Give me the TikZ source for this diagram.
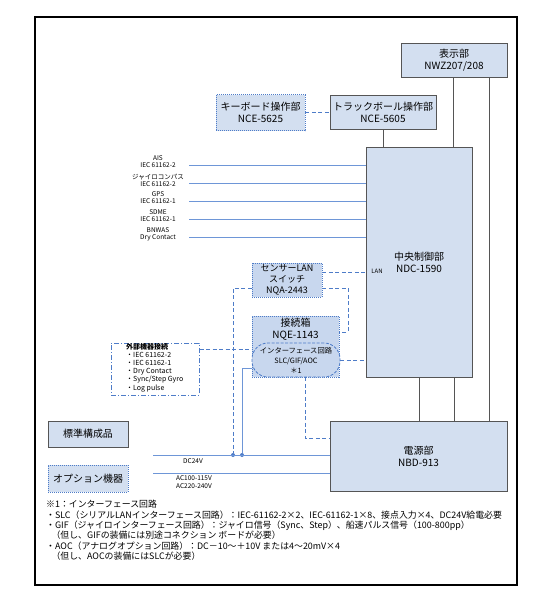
\documentclass[tikz,border=0pt]{standalone}
\usepackage{fontspec}
\setmainfont{Noto Sans CJK JP}
\usepackage{tikz}
\usetikzlibrary{arrows,positioning}

\definecolor{boxfill}{RGB}{211,223,240}
\definecolor{jfill}{RGB}{200,215,238}
\definecolor{boxline}{RGB}{85,85,85}
\definecolor{sigblue}{RGB}{110,150,215}
\definecolor{dashblue}{RGB}{78,124,200}

\newcommand\unitfont{\fontsize{10}{12}\selectfont}
\newcommand\tinyfont{\fontsize{6.5}{7}\selectfont}

\tikzset{
  unit/.style={draw=boxline,fill=boxfill,line width=0.8pt,align=center,inner sep=0pt,font=\unitfont},
  optunit/.style={unit,draw=dashblue,dash pattern=on 1pt off 1pt},
  wire/.style={draw=boxline,line width=0.7pt},
  sig/.style={draw=sigblue,line width=1pt},
  lanwire/.style={draw=dashblue,line width=1pt,dash pattern=on 4pt off 2.5pt},
  siglabel/.style={font=\tinyfont,align=center,inner sep=0pt},
  junction/.style={circle,fill=dashblue,inner sep=0pt,minimum size=4pt}
}

\begin{document}
\begin{tikzpicture}[x=1pt,y=-1pt]
  \useasboundingbox (0,0) rectangle (552,600);
  \draw[line width=1.2pt] (35,17) rectangle (517,585);

  % units
  \node[unit,minimum width=106pt,minimum height=34pt] (disp) at (454,60) {表示部\\NWZ207/208};
  \node[optunit,minimum width=89pt,minimum height=36pt] (kbd) at (260.5,112.5) {キーボード操作部\\NCE-5625};
  \node[unit,minimum width=106pt,minimum height=34pt] (trk) at (383,112.5) {トラックボール操作部\\NCE-5605};
  \node[unit,minimum width=106pt,minimum height=230pt] (ctrl) at (419,262) {中央制御部\\NDC-1590};
  \node[unit,minimum width=177pt,minimum height=70pt] (pwr) at (418.5,456) {電源部\\NBD-913};
  \node[optunit,fill=jfill,minimum width=70pt,minimum height=34pt,font=\fontsize{9}{11}\selectfont] (lan) at (287,280) {センサーLAN\\スイッチ\\NQA-2443};
  \node[optunit,fill=jfill,minimum width=87pt,minimum height=61pt] (jbox) at (295.5,346.5) {};
  \node[align=center,inner sep=0pt,font=\unitfont] (jname) at (295.5,329) {接続箱\\NQE-1143};
  \node[unit,fill=jfill,draw=dashblue,dash pattern=on 3pt off 1.5pt,rounded corners=16pt,
        minimum width=88pt,minimum height=34pt,font=\fontsize{7.3}{10}\selectfont] (ifc) at (296,360) {インターフェース回路\\SLC/GIF/AOC\\＊1};
  \node[draw=dashblue,line width=1pt,dash pattern=on 5pt off 2pt on 1pt off 2pt,
        minimum width=88pt,minimum height=52pt] (ext) at (155,369) {};
  \node[anchor=north west,align=left,inner sep=0pt,font=\fontsize{7}{8.2}\selectfont] (extlist) at (126,343)
    {{\bfseries 外部機器接続}\\・IEC 61162-2\\・IEC 61162-1\\・Dry Contact\\・Sync/Step Gyro\\・Log pulse};

  % legend
  \node[unit,minimum width=80pt,minimum height=26pt] (std) at (88,434) {標準構成品};
  \node[optunit,minimum width=80pt,minimum height=27pt] (opt) at (88,478.5) {オプション機器};

  % sensor inputs
  \foreach \yy/\src/\proto [count=\i] in {165/AIS/IEC 61162-2,183/ジャイロコンパス/IEC 61162-2,
      201/GPS/IEC 61162-1,219/SDME/IEC 61162-1,237/BNWAS/Dry Contact}{
    \node[siglabel] (src\i) at (158,\yy-3) {\src\\\proto};
    \coordinate (in\i) at (189,\yy);
    \draw[sig] (in\i) -- (in\i -| ctrl.west);
  }

  % unit wiring
  \coordinate (xd1) at (453,0);
  \coordinate (xd2) at (489,0);
  \coordinate (xp1) at (419,0);
  \coordinate (xp2) at (454,0);
  \draw[lanwire] (kbd.east) -- (trk.west);
  \draw[wire] (trk.south) -- (trk.south |- ctrl.north);
  \draw[wire] (disp.south -| xd1) -- (ctrl.north -| xd1);
  \draw[wire] (disp.south -| xd2) -- (pwr.north -| xd2);
  \draw[wire] (ctrl.south -| xp1) -- (pwr.north -| xp1);
  \draw[wire] (ctrl.south -| xp2) -- (pwr.north -| xp2);

  % LAN
  \coordinate (ylan) at (0,272);
  \coordinate (ylan2) at (0,288);
  \coordinate (jbend) at (348,332);
  \node[font=\fontsize{6}{7}\selectfont,inner sep=0pt] (lantag) at (377,271) {LAN};
  \draw[lanwire] (lan.east |- ylan) -- (ctrl.west |- ylan);
  \draw[lanwire] (lan.east |- ylan2) -| (jbend) -- (jbend -| jbox.east);
  \draw[lanwire] (ifc.east) -- (ifc.east -| ctrl.west);
  \coordinate (yext) at (0,349);
  \draw[lanwire] (ext.east |- yext) -- (jbox.west |- yext);
  \coordinate (xj) at (305,0);
  \coordinate (ypw) at (0,438);
  \draw[lanwire] (jbox.south -| xj) |- (pwr.west |- ypw);

  % power supply
  \coordinate (dc) at (153,455);
  \coordinate (ac) at (153,473);
  \node[junction] (j1) at (233,455) {};
  \node[junction] (j2) at (242,455) {};
  \draw[sig] (dc) -- (dc -| pwr.west);
  \draw[sig] (ac) -- (ac -| pwr.west);
  \node[siglabel] (dclbl) at (193,461) {DC24V};
  \node[siglabel,font=\fontsize{6.5}{8}\selectfont] (aclbl) at (194,482) {AC100-115V\\AC220-240V};
  \draw[lanwire] (lan.west |- ylan2) -| (j1);
  \coordinate (yifc) at (0,368);
  \draw[sig] (ifc.west |- yifc) -| (j2);

  % notes
  \node[anchor=north west,align=left,inner sep=0pt,font=\fontsize{8.9}{10.4}\selectfont] (notes) at (46,500)
    {※1：インターフェース回路\\
     ・SLC（シリアルLANインターフェース回路）：IEC-61162-2×2、IEC-61162-1×8、接点入力×4、DC24V給電必要\\
     ・GIF（ジャイロインターフェース回路）：ジャイロ信号（Sync、Step）、船速パルス信号（100-800pp）\\
     \hspace*{0.6em}（但し、GIFの装備には別途コネクション ボードが必要）\\
     ・AOC（アナログオプション回路）：DC－10～＋10V または4～20mV×4\\
     \hspace*{0.6em}（但し、AOCの装備にはSLCが必要）};
\end{tikzpicture}
\end{document}
